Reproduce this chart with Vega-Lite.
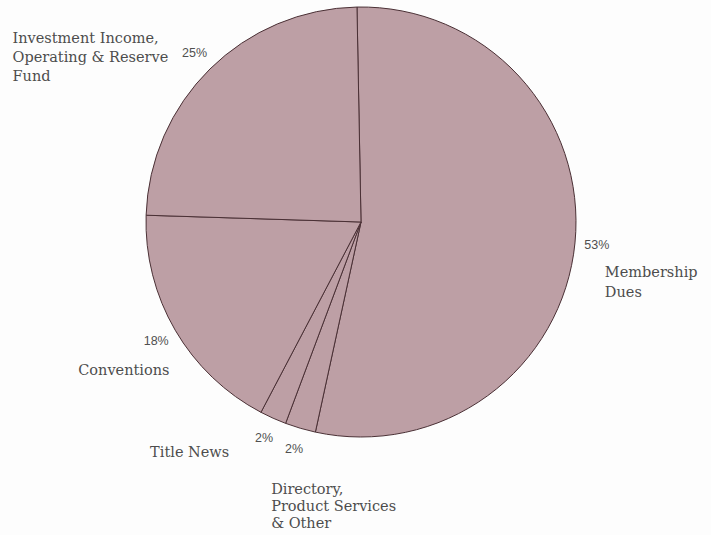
{
  "$schema": "https://vega.github.io/schema/vega-lite/v6.json",
  "width": 722,
  "height": 444,
  "autosize": {"type": "none"},
  "padding": {"left": 0, "top": 0, "right": 0, "bottom": 100},
  "background": "#fdfdfd",
  "config": {"view": {"stroke": null}},
  "data": {
    "values": [
      {"cat": "Membership", "name": "Membership\nDues", "pct": "53%", "value": 53.7, "order": 1},
      {"cat": "Directory", "name": "Directory,\nProduct Services\n& Other", "pct": "2%", "value": 2.3, "order": 2},
      {"cat": "Title", "name": "Title News", "pct": "2%", "value": 2.0, "order": 3},
      {"cat": "Conventions", "name": "Conventions", "pct": "18%", "value": 17.8, "order": 4},
      {"cat": "Investment", "name": "Investment Income,\nOperating & Reserve\n\u2002Fund", "pct": "25%", "value": 24.2, "order": 5}
    ]
  },
  "layer": [
    {
      "mark": {"type": "arc", "outerRadius": 215, "fill": "#bd9fa5", "stroke": "#4a3035", "strokeWidth": 1},
      "encoding": {
        "theta": {"field": "value", "type": "quantitative", "stack": true, "scale": {"range": [-0.0187, 6.2645]}},
        "order": {"field": "order", "type": "quantitative"}
      }
    },
    {
      "mark": {"type": "text", "radius": 237, "align": "center", "baseline": "middle", "font": "Liberation Sans", "fontSize": 12.5, "fill": "#505050"},
      "encoding": {
        "theta": {"field": "value", "type": "quantitative", "stack": true},
        "order": {"field": "order", "type": "quantitative"},
        "text": {"field": "pct"}
      }
    },
    {
      "mark": {"type": "text", "radius": 237, "align": "left", "baseline": "top", "dx": 8, "dy": 21, "lineBreak": "\n", "lineHeight": 20, "font": "DejaVu Serif", "fontSize": 14.5, "fill": "#4d4d4d"},
      "encoding": {
        "theta": {"field": "value", "type": "quantitative", "stack": true},
        "order": {"field": "order", "type": "quantitative"},
        "text": {"condition": {"test": "datum.cat === 'Membership'", "field": "name"}, "value": ""}
      }
    },
    {
      "mark": {"type": "text", "radius": 237, "align": "left", "baseline": "top", "dx": -182, "dy": -21, "lineBreak": "\n", "lineHeight": 19, "font": "DejaVu Serif", "fontSize": 14.5, "fill": "#4d4d4d"},
      "encoding": {
        "theta": {"field": "value", "type": "quantitative", "stack": true},
        "order": {"field": "order", "type": "quantitative"},
        "text": {"condition": {"test": "datum.cat === 'Investment'", "field": "name"}, "value": ""}
      }
    },
    {
      "mark": {"type": "text", "radius": 237, "align": "left", "baseline": "top", "dx": -78, "dy": 23, "lineBreak": "\n", "font": "DejaVu Serif", "fontSize": 14.5, "fill": "#4d4d4d"},
      "encoding": {
        "theta": {"field": "value", "type": "quantitative", "stack": true},
        "order": {"field": "order", "type": "quantitative"},
        "text": {"condition": {"test": "datum.cat === 'Conventions'", "field": "name"}, "value": ""}
      }
    },
    {
      "mark": {"type": "text", "radius": 237, "align": "left", "baseline": "top", "dx": -114, "dy": 8, "lineBreak": "\n", "font": "DejaVu Serif", "fontSize": 14.5, "fill": "#4d4d4d"},
      "encoding": {
        "theta": {"field": "value", "type": "quantitative", "stack": true},
        "order": {"field": "order", "type": "quantitative"},
        "text": {"condition": {"test": "datum.cat === 'Title'", "field": "name"}, "value": ""}
      }
    },
    {
      "mark": {"type": "text", "radius": 237, "align": "left", "baseline": "top", "dx": -23, "dy": 34, "lineBreak": "\n", "lineHeight": 17, "font": "DejaVu Serif", "fontSize": 14.5, "fill": "#4d4d4d"},
      "encoding": {
        "theta": {"field": "value", "type": "quantitative", "stack": true},
        "order": {"field": "order", "type": "quantitative"},
        "text": {"condition": {"test": "datum.cat === 'Directory'", "field": "name"}, "value": ""}
      }
    }
  ]
}
